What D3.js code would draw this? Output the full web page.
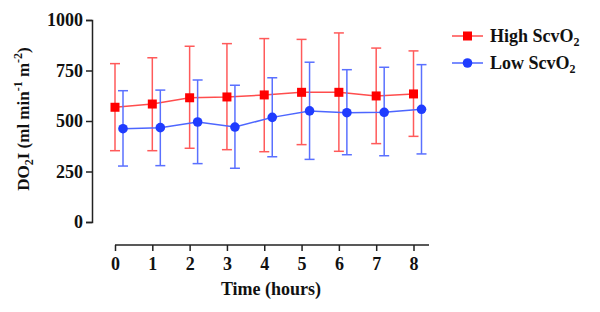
<!DOCTYPE html>
<html><head><meta charset="utf-8">
<script src="https://cdn.jsdelivr.net/npm/d3@7"></script>
<style>body{margin:0;background:#fff}svg{display:block}
svg text{font-family:"Liberation Serif","Times New Roman",Times,"DejaVu Serif",serif !important;font-weight:bold;fill:#111}</style>
</head><body><svg id="c" width="600" height="312"></svg>
<script>
const hours = [0,1,2,3,4,5,6,7,8];
const yTicks = [0,250,500,750,1000];
const highMean = [568,584,615,619,629,642,642,624,634];
const highUpper = [784,813,870,883,908,904,936,861,847];
const highLower = [353,353,365,358,348,383,350,388,424];
const lowMean = [462,467,495,470,518,550,541,543,558];
const lowUpper = [650,653,703,677,714,791,754,766,779];
const lowLower = [277,279,289,266,323,310,333,328,337];
const seriesNames = ["High ScvO", "Low ScvO"];

const svg = d3.select("#c");
const x = d3.scaleLinear().domain([0,8]).range([115,413.5]);
const y = d3.scaleLinear().domain([0,1000]).range([222,20]);
const axisColor = "#222";
const FF = '"Liberation Serif", "Times New Roman", serif';

// y axis
const ya = svg.append("g").attr("transform","translate(92,0)")
  .call(d3.axisLeft(y).tickValues(yTicks).tickFormat(d3.format("d")).tickSize(6).tickPadding(3));
ya.attr("font-family",FF);
ya.select(".domain").attr("stroke",axisColor).attr("stroke-width",1.5);
ya.selectAll(".tick line").attr("stroke",axisColor).attr("stroke-width",1.5);
ya.selectAll(".tick text").style("font-size","18px").attr("fill","#111");

// x axis
const xa = svg.append("g").attr("transform","translate(0,245)")
  .call(d3.axisBottom(x).tickValues(hours).tickSize(6).tickPadding(6).tickSizeOuter(0));
xa.attr("font-family",FF);
xa.select(".domain").attr("stroke",axisColor).attr("stroke-width",1.5).attr("d","M115,0H429");
xa.selectAll(".tick line").attr("stroke",axisColor).attr("stroke-width",1.5);
xa.selectAll(".tick text").style("font-size","18px").attr("fill","#111");

// titles
svg.append("text").attr("x",271).attr("y",295).attr("text-anchor","middle").style("font-size","18px").text("Time (hours)");
const yt = svg.append("text").attr("transform","translate(29,119) rotate(-90)").attr("text-anchor","middle").style("font-size","17px");
yt.append("tspan").text("DO");
yt.append("tspan").attr("dy",4).style("font-size","12px").text("2");
yt.append("tspan").attr("dy",-4).text("I (ml min");
yt.append("tspan").attr("dy",-7).style("font-size","12px").text("-1");
yt.append("tspan").attr("dy",7).text(" m");
yt.append("tspan").attr("dy",-7).style("font-size","12px").text("-2");
yt.append("tspan").attr("dy",7).text(")");

const series = [
  {mean:highMean, up:highUpper, lo:highLower, off:0, line:"#ff4d4d", err:"#ff5a5a", mark:"#ff0000", shape:"square"},
  {mean:lowMean, up:lowUpper, lo:lowLower, off:8, line:"#4d66ff", err:"#5a70ff", mark:"#1f3cff", shape:"circle"}
];
const cap = 5;
series.forEach(s => {
  const g = svg.append("g");
  const xs = i => x(hours[i]) + s.off;
  hours.forEach((h,i) => {
    g.append("line").attr("x1",xs(i)).attr("x2",xs(i)).attr("y1",y(s.up[i])).attr("y2",y(s.lo[i])).attr("stroke",s.err).attr("stroke-width",1.5);
    g.append("line").attr("x1",xs(i)-cap).attr("x2",xs(i)+cap).attr("y1",y(s.up[i])).attr("y2",y(s.up[i])).attr("stroke",s.err).attr("stroke-width",1.5);
    g.append("line").attr("x1",xs(i)-cap).attr("x2",xs(i)+cap).attr("y1",y(s.lo[i])).attr("y2",y(s.lo[i])).attr("stroke",s.err).attr("stroke-width",1.5);
  });
  g.append("path").datum(s.mean).attr("fill","none").attr("stroke",s.line).attr("stroke-width",1.5)
    .attr("d", d3.line().x((d,i)=>xs(i)).y(d=>y(d)));
  hours.forEach((h,i) => {
    if (s.shape==="square") g.append("rect").attr("x",xs(i)-4.5).attr("y",y(s.mean[i])-4.5).attr("width",9).attr("height",9).attr("fill",s.mark);
    else g.append("circle").attr("cx",xs(i)).attr("cy",y(s.mean[i])).attr("r",4.8).attr("fill",s.mark);
  });
});

// legend
const leg = svg.append("g");
series.forEach((s,k) => {
  const ly = 36 + k*27;
  leg.append("line").attr("x1",452).attr("x2",483).attr("y1",ly).attr("y2",ly).attr("stroke",s.line).attr("stroke-width",1.5);
  if (s.shape==="square") leg.append("rect").attr("x",463).attr("y",ly-4.5).attr("width",9).attr("height",9).attr("fill",s.mark);
  else leg.append("circle").attr("cx",467.5).attr("cy",ly).attr("r",4.8).attr("fill",s.mark);
  const t = leg.append("text").attr("x",490).attr("y",ly+6).style("font-size","18px");
  t.append("tspan").text(seriesNames[k]);
  t.append("tspan").attr("dy",4).style("font-size","12px").text("2");
});
</script></body></html>
